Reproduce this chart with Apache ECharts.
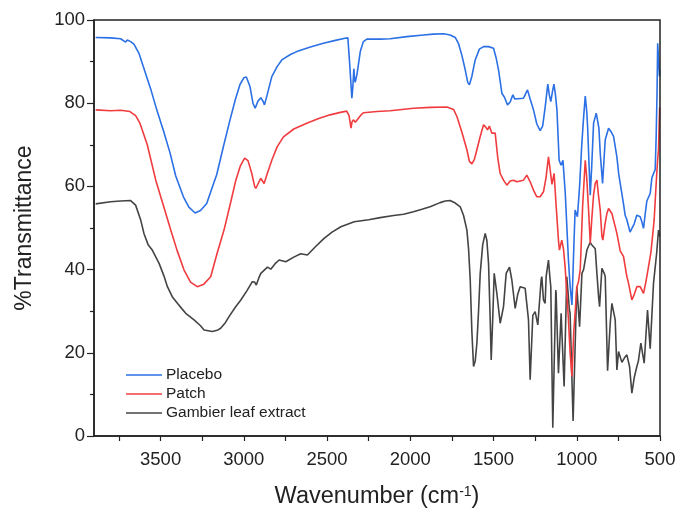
<!DOCTYPE html>
<html>
<head>
<meta charset="utf-8">
<script src="https://cdn.jsdelivr.net/npm/echarts@6/dist/echarts.min.js"></script>
<style>
  html, body { margin: 0; padding: 0; background: #fff; }
  #chart { width: 677px; height: 508px; }
</style>
</head>
<body>
<div id="chart"></div>
<script>
// [wavenumber (cm-1), %T]
const placebo = [
  [3890,95.8],[3800,95.7],[3740,95.5],[3710,94.7],[3700,95.2],[3680,94.8],[3660,94.2],[3630,92],[3604,88.8],
  [3560,83.5],[3523,78.4],[3480,73],[3443,68],[3409,62.5],[3363,57.5],[3330,55],[3293,53.6],[3260,54.2],
  [3223,55.9],[3179,61],[3163,62.8],[3120,70],[3083,76],[3050,81],[3023,84.5],[3000,86.1],[2985,86.3],
  [2963,84],[2945,80],[2932,78.8],[2915,80.5],[2898,81.3],[2885,80.5],[2876,79.6],[2860,82],[2832,86.4],
  [2800,88.8],[2772,90.4],[2720,91.7],[2682,92.4],[2600,93.5],[2522,94.4],[2450,95.1],[2392,95.6],
  [2375,95.7],[2365,90],[2351,81.2],[2345,84],[2339,88.3],[2335,86],[2331,85],[2320,87],[2300,92.5],
  [2282,94.8],[2261,95.4],[2181,95.4],[2121,95.5],[2021,96],[1920,96.4],[1861,96.6],[1800,96.7],
  [1761,96.4],[1730,95.8],[1711,94.4],[1690,91.5],[1670,88],[1655,85],[1645,84.4],[1630,86.5],[1610,90.4],
  [1585,93],[1560,93.6],[1530,93.6],[1500,93.2],[1485,91],[1470,88],[1450,82.4],[1435,81.5],[1416,79.6],
  [1400,80.3],[1384,82],[1372,81],[1360,80.9],[1320,81.2],[1296,83.2],[1280,81],[1260,78.4],[1240,75],
  [1220,73.4],[1205,74.5],[1190,79],[1174,84.6],[1165,82],[1156,80.4],[1145,83],[1137,84.6],[1128,82],
  [1119,78.4],[1110,70],[1106,66.3],[1094,65.1],[1083,66.3],[1069,58.3],[1050,42.3],[1040,36],[1029,31.5],
  [1018,45],[1010,54.3],[996,52.7],[983,60],[970,70],[960,76],[949,81.7],[940,78],[935,74.4],[925,64],
  [919,57.9],[910,65],[899,75.2],[883,77.6],[875,78],[867,74],[859,68],[845,60.7],[837,66],[829,71.2],
  [809,74],[795,73.2],[779,72],[759,67.1],[748,63],[739,60.7],[720,56],[709,53],[699,52],[680,49],
  [669,48.7],[655,51],[639,53.1],[619,52.7],[609,51.5],[599,49.9],[590,53],[579,56.5],[559,58.3],
  [549,62],[540,63],[529,64],[523,72],[518,82],[514,94.4],[508,90],[503,86.4],[501,88]
];
const patch = [
  [3890,78.4],[3800,78.2],[3740,78.3],[3684,78],[3650,77],[3624,75.2],[3580,70],[3529,61.5],[3480,55],
  [3439,49.5],[3400,44.5],[3359,39.9],[3320,37],[3280,35.9],[3240,36.5],[3199,38.3],[3160,44],[3119,49.5],
  [3080,56],[3048,61.5],[3020,65],[2995,66.8],[2975,66.2],[2952,63.1],[2935,60],[2928,59.5],[2910,61],
  [2898,61.9],[2888,61.3],[2878,60.7],[2860,63],[2832,66.3],[2800,69.5],[2762,71.9],[2700,73.8],
  [2622,75.2],[2550,76.3],[2482,77.2],[2420,77.8],[2382,78.1],[2368,77],[2356,74],[2350,75.5],[2342,76],
  [2330,75.4],[2322,75.6],[2300,77],[2282,77.7],[2200,78],[2121,78.2],[2050,78.5],[1981,78.8],[1880,79],
  [1780,79.1],[1740,78.5],[1720,76.8],[1690,73],[1660,68.8],[1645,66],[1630,65.4],[1615,66.5],[1600,68.8],
  [1580,72],[1560,74.8],[1548,74.3],[1536,73.6],[1525,74.5],[1510,72.8],[1490,72.8],[1475,67],[1460,63.1],
  [1440,61.5],[1420,60.3],[1400,61.3],[1380,61.5],[1360,61.1],[1320,61.5],[1300,62.7],[1280,61.1],
  [1260,59.1],[1240,57.5],[1220,57.5],[1200,58.7],[1185,62],[1170,67.1],[1160,64],[1149,60.5],[1136,63.1],
  [1125,56],[1110,47.1],[1104,44.7],[1090,47.1],[1080,45],[1070,40.7],[1050,28],[1040,20],[1029,14.3],
  [1018,25],[999,35.9],[990,37],[979,40],[965,55],[949,66.3],[940,62],[929,54.3],[919,46.3],[910,52],
  [899,58],[889,60.7],[879,61.5],[870,58],[859,54.3],[849,48],[843,47.1],[830,51],[819,53.5],[809,54.7],
  [803,54.5],[789,53.5],[779,51.9],[759,48.7],[739,44.5],[719,43.1],[700,38.5],[689,36.7],[669,32.7],
  [655,34],[639,35.9],[619,35.9],[599,34.3],[585,37],[569,40.7],[555,44],[543,48.7],[535,52],[523,60.7],
  [515,66],[509,68.8],[505,75],[502,79]
];
const gambier = [
  [3890,55.8],[3800,56.3],[3740,56.5],[3680,56.6],[3650,55.5],[3620,52],[3600,48.7],[3575,46],[3550,44.7],
  [3509,41.5],[3480,38.5],[3459,35.9],[3430,33.5],[3399,31.9],[3370,30.5],[3349,29.5],[3299,27.9],
  [3260,26.5],[3239,25.5],[3189,25.1],[3160,25.4],[3139,25.9],[3110,27.3],[3089,28.7],[3050,31],
  [3018,32.7],[2980,35],[2949,37.1],[2935,37],[2925,36.3],[2910,38],[2898,39.1],[2858,40.6],[2838,40.1],
  [2810,41.5],[2788,42.3],[2748,41.9],[2700,43],[2658,43.8],[2618,43.5],[2570,45.5],[2518,47.5],[2470,49],
  [2417,50.3],[2337,51.5],[2250,52],[2181,52.5],[2100,53],[2040,53.3],[1981,53.9],[1930,54.5],[1881,55.1],
  [1821,56.1],[1790,56.5],[1761,56.6],[1730,56],[1700,55.1],[1680,53],[1660,49.5],[1650,45],[1640,37.5],
  [1630,25],[1620,16.7],[1610,18],[1600,22.3],[1590,30],[1580,39.1],[1565,46],[1550,48.7],[1540,47],
  [1530,41.5],[1520,28],[1514,18.3],[1505,28],[1496,39.1],[1480,34.3],[1460,27.1],[1440,31.1],[1424,39.1],
  [1404,40.6],[1390,37.5],[1370,30.7],[1355,34],[1340,35.9],[1310,35.5],[1290,27.9],[1280,13.5],[1264,29],
  [1250,29.9],[1234,26.7],[1214,37.5],[1210,38.3],[1200,32.7],[1190,31.9],[1184,38.3],[1170,42.3],
  [1160,37.5],[1156,35.9],[1144,2],[1126,35.1],[1124,34.3],[1110,15.1],[1094,29.5],[1076,11.9],[1060,38.3],
  [1044,30.3],[1040,29.5],[1022,3.6],[1000,36],[983,26.3],[969,39.1],[959,40],[939,44.7],[920,46.5],
  [909,45.9],[889,45],[879,39.1],[869,33.5],[863,31.1],[849,40.3],[835,39.1],[829,38.3],[815,15.7],
  [799,27.1],[789,31.9],[783,31.9],[769,27.9],[759,15.9],[749,20.3],[743,20.7],[729,17.7],[710,19],
  [699,19.5],[683,16.7],[669,10.3],[655,14],[639,16.7],[630,18],[619,17.9],[615,22.3],[609,22.3],
  [595,17.5],[575,30.3],[569,29.9],[559,21],[539,36.7],[535,36.7],[520,44],[509,49.5],[503,48]
];
const seriesNames = ["Placebo", "Patch", "Gambier leaf extract"];
const seriesColors = ["#2b70e4", "#f03c3f", "#444444"];

const font = "Liberation Sans, Arial, sans-serif";
const chart = echarts.init(document.getElementById("chart"), null, { renderer: "canvas" });

chart.setOption({
  animation: false,
  backgroundColor: "#fff",
  grid: { left: 94, right: 17, top: 20, bottom: 72, containLabel: false, outerBoundsMode: "none" },
  legend: {
    orient: "vertical",
    left: 121, top: 362,
    icon: "rect", itemWidth: 36, itemHeight: 1.5, itemGap: 3,
    textStyle: { fontFamily: font, fontSize: 15.5, color: "#222", padding: [0, 0, 0, -1] },
    data: seriesNames
  },
  xAxis: {
    type: "value", inverse: true,
    min: 500, max: 3900, interval: 250,
    name: "Wavenumber (cm{sup|-1})", nameLocation: "middle", nameGap: 49,
    nameTextStyle: {
      fontFamily: font, fontSize: 23.5, color: "#222",
      rich: { sup: { fontFamily: font, fontSize: 14, color: "#222", verticalAlign: "top", padding: [0, 0, 9, 0] } }
    },
    axisLine: { lineStyle: { color: "#222", width: 1.5 } },
    axisTick: { inside: false, length: 5, lineStyle: { color: "#222", width: 1.2 } },
    axisLabel: {
      fontFamily: font, fontSize: 18.5, color: "#222", margin: 14,
      showMaxLabel: false,
      formatter: v => (v % 500 === 0 ? String(v) : "")
    },
    splitLine: { show: false }
  },
  yAxis: {
    type: "value", min: 0, max: 100, interval: 20,
    name: "%Transmittance", nameLocation: "middle", nameGap: 58,
    nameTextStyle: { fontFamily: font, fontSize: 23, color: "#222" },
    axisLine: { show: true, lineStyle: { color: "#222", width: 1.5 } },
    axisTick: { show: true, length: 7, lineStyle: { color: "#222", width: 1.2 } },
    minorTick: { show: true, splitNumber: 2, length: 4, lineStyle: { color: "#222", width: 1.2 } },
    axisLabel: { fontFamily: font, fontSize: 18.5, color: "#222", margin: 9 },
    splitLine: { show: false }
  },
  series: [placebo, patch, gambier].map((d, i) => ({
    name: seriesNames[i],
    type: "line",
    data: d,
    showSymbol: false,
    symbol: "none",
    color: seriesColors[i],
    lineStyle: { width: 1.6, color: seriesColors[i] },
    z: 3 - i
  })),
  graphic: [{
    type: "rect", silent: true, z: 10,
    shape: { x: 94, y: 20, width: 566, height: 416 },
    style: { fill: "none", stroke: "#222", lineWidth: 1.5 }
  }]
});
</script>
</body>
</html>
